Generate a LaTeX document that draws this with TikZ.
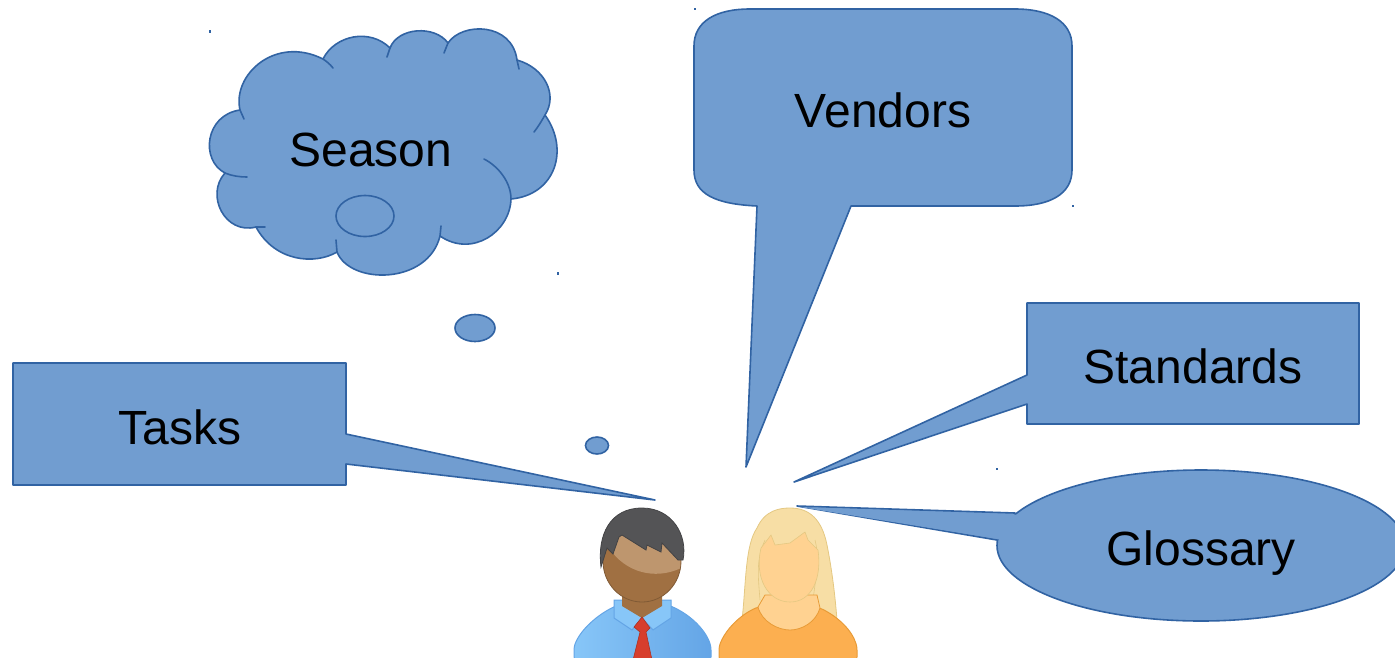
\documentclass[tikz,border=0pt]{standalone}
\usepackage{fontspec}
\setmainfont{Liberation Sans}
\definecolor{cfill}{RGB}{113,157,208}
\definecolor{cline}{RGB}{49,99,163}
\definecolor{hairM}{RGB}{84,84,86}
\definecolor{skinM}{RGB}{160,112,66}
\definecolor{skinMl}{RGB}{190,150,110}
\definecolor{shirtM}{RGB}{135,198,248}
\definecolor{shirtMd}{RGB}{100,165,230}
\definecolor{tieM}{RGB}{215,62,45}
\definecolor{hairF}{RGB}{247,222,165}
\definecolor{hairFl}{RGB}{228,200,130}
\definecolor{skinF}{RGB}{255,210,145}
\definecolor{shirtF}{RGB}{252,175,80}
\definecolor{lineF}{RGB}{232,155,55}
\tikzset{
  shapeb/.style={fill=cfill,draw=cline,line width=1.6pt,line join=round},
  lobeline/.style={draw=cline,line width=1.6pt,line cap=round},
  label/.style={font=\fontsize{48}{50}\selectfont,text=black,inner sep=0pt,anchor=base},
  dotmark/.style={fill=cline,draw=none}
}
\begin{document}
\begin{tikzpicture}[x=1pt,y=-1pt]
\useasboundingbox (0,0) rectangle (1395,657);
\clip (0,0) rectangle (1395,657);
% Tiny marks
\fill[dotmark] (209,30) rectangle (211,33);
\fill[dotmark] (557,272) rectangle (559,275);
\fill[dotmark] (694,8) rectangle (696,10);
\fill[dotmark] (1072,205) rectangle (1074,207);
\fill[dotmark] (996,468) rectangle (998,470);
% Cloud
\path[shapeb] (240,110)
 .. controls (232,75) and (275,35) .. (323,59)
 .. controls (335,35) and (370,28) .. (390,48)
 .. controls (398,27) and (435,25) .. (448,43)
 .. controls (462,22) and (512,22) .. (517,60)
 .. controls (545,68) and (558,95) .. (545,115)
 .. controls (570,150) and (555,195) .. (511,199)
 .. controls (510,232) and (472,258) .. (440,236)
 .. controls (428,285) and (350,285) .. (337,252)
 .. controls (315,265) and (275,262) .. (256,227)
 .. controls (225,235) and (205,195) .. (225,173)
 .. controls (200,160) and (205,115) .. (240,110) -- cycle;
\draw[lobeline] (323,59) .. controls (326,61) and (330,64) .. (333,68);
\draw[lobeline] (390,48) -- (387,57);
\draw[lobeline] (448,43) -- (444,53);
\draw[lobeline] (517,60) -- (519,69);
\draw[lobeline] (545,115) .. controls (541,122) and (538,127) .. (534,132);
\draw[lobeline] (511,199) .. controls (511,182) and (498,166) .. (484,159);
\draw[lobeline] (440,236) -- (441,226);
\draw[lobeline] (337,252) -- (336,240);
\draw[lobeline] (256,227) -- (265,227);
\draw[lobeline] (225,173) .. controls (232,176) and (240,177) .. (247,177);
\draw[lobeline] (240,110) -- (244,119);
\path[shapeb] (365,216) ellipse [x radius=29,y radius=20.5];
\path[shapeb] (475,328) ellipse [x radius=20,y radius=13.5];
\path[shapeb] (597,445.5) ellipse [x radius=11.5,y radius=8.5];
\node[label] (season) at (371,166) {Season};
% Vendors
\path[shapeb] (750,9) -- (1015,9) .. controls (1050,9) and (1072,22) .. (1072,46)
 -- (1072,170) .. controls (1072,194) and (1050,206) .. (1015,206)
 -- (851,206) -- (746,467) -- (757,206)
 .. controls (715,204) and (694,194) .. (694,170) -- (694,46)
 .. controls (694,22) and (715,9) .. (750,9) -- cycle;
\node[label] (vendors) at (883,127) {Vendors};
% Standards
\path[shapeb] (1027,303) -- (1359,303) -- (1359,424) -- (1027,424) -- (1027,404)
 -- (794,482) -- (1027,375) -- cycle;
\node[label] (standards) at (1193,383) {Standards};
% Tasks
\path[shapeb] (13,363) -- (346,363) -- (346,434) -- (655,500) -- (346,464)
 -- (346,485) -- (13,485) -- cycle;
\node[label] (tasks) at (180,444) {Tasks};
% Glossary
\path[shapeb] (1201,545.5) ellipse [x radius=204,y radius=75.5];
\draw[lobeline,line join=round,fill=cfill] (1015,513) -- (797,506) -- (997,540);
\path[fill=cfill] (1015,514.5) -- (1040,514.5) -- (1040,545) -- (998.5,539) -- (800,507) -- cycle;
\node[label] (glossary) at (1201,565) {Glossary};
% Man
\path[left color=shirtM,right color=shirtMd,draw=shirtMd,line width=1pt,rounded corners=3pt]
 (574,660) -- (574,647) .. controls (580,630) and (598,614) .. (618,605)
 -- (668,605) .. controls (690,614) and (706,630) .. (711,647) -- (711,660) -- cycle;
\path[fill=shirtM,draw=shirtMd,line width=1pt]
 (614,600) -- (671,600) -- (671,618) -- (653,630) -- (642,618) -- (632,630) -- (614,618) -- cycle;
\path[fill=skinM] (622,590) -- (662,590) -- (662,606) -- (642,618) -- (622,606) -- cycle;
\path[fill=tieM,draw=tieM!80!black,line width=.6pt]
 (642,617) -- (650,628) -- (646,632) -- (652,660) -- (633,660) -- (640,632) -- (634,627) -- cycle;
\path[fill=skinM,draw=skinM!80!black,line width=.8pt] (642,561) ellipse [x radius=39,y radius=41];
\begin{scope}
\clip (642,561) ellipse [x radius=38.5,y radius=40.5];
\path[fill=skinMl] (610,530) -- (685,530) -- (685,566)
 .. controls (660,580) and (630,575) .. (612,552) -- cycle;
\end{scope}
\path[fill=hairM,draw=hairM!80!black,line width=.8pt]
 (601,567) .. controls (597,535) and (610,508) .. (642,508)
 .. controls (672,508) and (688,535) .. (683,560)
 -- (678,560) -- (662,543) -- (661,552) -- (647,545) -- (646,550) -- (622,535)
 -- (619,537) -- (613,554) -- (607,548) -- cycle;
% Woman
\path[fill=hairF,draw=hairFl,line width=.8pt]
 (742,620) .. controls (746,585) and (745,545) .. (757,528)
 .. controls (765,510) and (780,508) .. (790,508)
 .. controls (810,508) and (822,520) .. (827,545)
 .. controls (832,570) and (835,595) .. (837,620) -- cycle;
\draw[hairFl,line width=.6pt] (760,600) .. controls (758,575) and (756,560) .. (765,540);
\draw[hairFl,line width=.6pt] (813,600) .. controls (816,575) and (820,560) .. (815,540);
\path[fill=shirtF,draw=lineF,line width=1pt,rounded corners=3pt]
 (719,660) -- (719,647) .. controls (725,630) and (740,615) .. (758,607)
 -- (820,608) .. controls (838,617) and (852,630) .. (857,647) -- (857,660) -- cycle;
\path[fill=skinF,draw=lineF,line width=.8pt]
 (758,607) .. controls (762,622) and (778,630) .. (790,630)
 .. controls (802,630) and (816,622) .. (820,608) -- (817,595) -- (765,595) -- cycle;
\path[fill=skinF,draw=hairFl,line width=.6pt]
 (761,548) -- (771,535) -- (775,545) -- (790,543) -- (805,532) -- (808,540) -- (818,550)
 .. controls (822,578) and (812,602) .. (790,602)
 .. controls (768,602) and (754,578) .. (761,548) -- cycle;
\end{tikzpicture}
\end{document}
